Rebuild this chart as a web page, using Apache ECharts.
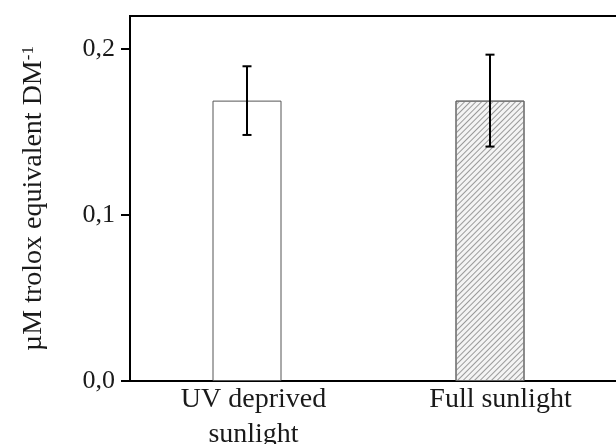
<!DOCTYPE html>
<html>
<head>
<meta charset="utf-8">
<script src="https://cdn.jsdelivr.net/npm/echarts@6/dist/echarts.min.js"></script>
<style>
  html, body { margin: 0; padding: 0; background: #fff; }
  #main { width: 616px; height: 444px; }
</style>
</head>
<body>
<div id="main"></div>
<script>
  // values
  var categories = ["UV deprived\nsunlight", "Full sunlight"];
  var means = [0.169, 0.169];
  var errors = [0.0207, 0.0277];
  var yTicks = [0, 0.1, 0.2];

  var chartDom = document.getElementById("main");
  var myChart = echarts.init(chartDom, null, { renderer: "canvas" });

  var errData = means.map(function (m, i) {
    return [i, m - errors[i], m + errors[i]];
  });

  var option = {
    animation: false,
    textStyle: { fontFamily: "Liberation Serif", color: "#1a1a1a" },
    grid: [
      // frame, ticks and labels
      {
        left: 130, right: -8, top: 16, bottom: 63,
        outerBoundsMode: "none",
        show: true, borderWidth: 2, borderColor: "#000",
      },
      // bars sit slightly left of the label centres in the original
      { left: 125.5, right: 4.5, top: 16, bottom: 63, outerBoundsMode: "none" },
    ],
    xAxis: [
      {
        type: "category",
        gridIndex: 0,
        data: categories,
        axisLine: { lineStyle: { color: "#000", width: 2 } },
        axisTick: { show: false },
        axisLabel: {
          fontSize: 28,
          lineHeight: 35,
          margin: 1,
          color: "#1a1a1a",
        },
      },
      { type: "category", gridIndex: 1, data: categories, show: false },
    ],
    yAxis: [
      {
        type: "value",
        gridIndex: 0,
        min: 0,
        max: 0.22,
        interval: 0.1,
        splitLine: { show: false },
        axisLine: { show: true, lineStyle: { color: "#000", width: 2 } },
        axisTick: {
          show: true,
          length: 9,
          customValues: yTicks,
          lineStyle: { color: "#000", width: 2 },
        },
        axisLabel: {
          fontSize: 26,
          margin: 15,
          color: "#1a1a1a",
          customValues: yTicks,
          formatter: function (v) {
            return v.toFixed(1).replace(".", ",");
          },
        },
        name: "{t|µM trolox equivalent DM}{s|-1}",
        nameLocation: "middle",
        nameRotate: 90,
        nameGap: 82,
        nameTextStyle: {
          rich: {
            t: { fontFamily: "Liberation Serif", fontSize: 28, color: "#1a1a1a" },
            s: { fontFamily: "Liberation Serif", fontSize: 17, color: "#1a1a1a", verticalAlign: "top" },
          },
        },
      },
      { type: "value", gridIndex: 1, min: 0, max: 0.22, show: false },
    ],
    series: [
      {
        type: "bar",
        xAxisIndex: 1,
        yAxisIndex: 1,
        barWidth: 69,
        data: [
          {
            value: means[0],
            itemStyle: { color: "#fff", borderColor: "#555", borderWidth: 1 },
          },
          {
            value: means[1],
            itemStyle: {
              color: "#f4f4f4",
              borderColor: "#666",
              borderWidth: 1,
              decal: {
                symbol: "rect",
                symbolSize: 1,
                dashArrayX: [1, 0],
                dashArrayY: [1, 3],
                rotation: -Math.PI / 4,
                color: "#9a9a9a",
              },
            },
          },
        ],
      },
      {
        type: "custom",
        xAxisIndex: 1,
        yAxisIndex: 1,
        data: errData,
        encode: { x: 0, y: [1, 2] },
        z: 10,
        renderItem: function (params, api) {
          var lo = api.coord([api.value(0), api.value(1)]);
          var hi = api.coord([api.value(0), api.value(2)]);
          var half = 4.5;
          var st = { stroke: "#000", lineWidth: 2 };
          return {
            type: "group",
            children: [
              { type: "line", shape: { x1: hi[0], y1: hi[1], x2: lo[0], y2: lo[1] }, style: st },
              { type: "line", shape: { x1: hi[0] - half, y1: hi[1], x2: hi[0] + half, y2: hi[1] }, style: st },
              { type: "line", shape: { x1: lo[0] - half, y1: lo[1], x2: lo[0] + half, y2: lo[1] }, style: st },
            ],
          };
        },
      },
    ],
  };

  myChart.setOption(option);
</script>
</body>
</html>
